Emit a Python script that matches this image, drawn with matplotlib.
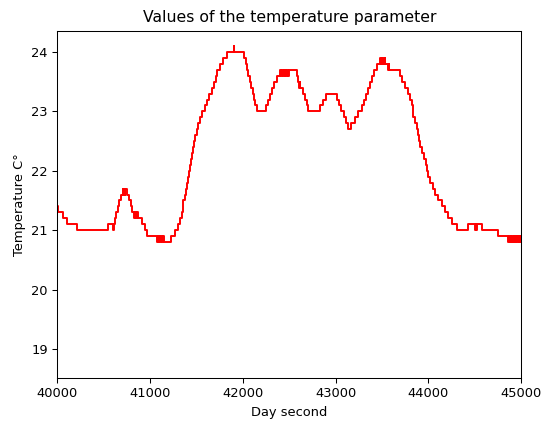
import matplotlib
matplotlib.use("Agg")
import matplotlib.pyplot as plt

# step data: time (day second) where the reading changes, and the new reading
seconds = [
    40000, 40013, 40065, 40108, 40216, 40550, 40603, 40614, 40627, 40638,
    40649, 40662, 40686, 40705, 40713, 40719, 40727, 40735, 40754, 40773,
    40791, 40808, 40827, 40837, 40848, 40859, 40870, 40909, 40945, 40967,
    41071, 41085, 41093, 41101, 41110, 41118, 41126, 41134, 41145, 41222,
    41268, 41304, 41322, 41341, 41350, 41360, 41372, 41385, 41398, 41410,
    41420, 41430, 41440, 41450, 41460, 41472, 41484, 41502, 41519, 41537,
    41556, 41592, 41613, 41640, 41664, 41689, 41705, 41724, 41753, 41782,
    41825, 41900, 41905, 42015, 42030, 42045, 42060, 42075, 42090, 42105,
    42120, 42135, 42150, 42250, 42272, 42290, 42310, 42335, 42364, 42405,
    42414, 42423, 42432, 42441, 42450, 42459, 42468, 42477, 42486, 42500,
    42580, 42597, 42604, 42611, 42618, 42634, 42651, 42669, 42688, 42705,
    42831, 42866, 42896, 43019, 43041, 43062, 43089, 43116, 43136, 43170,
    43208, 43244, 43280, 43305, 43327, 43351, 43370, 43388, 43418, 43450,
    43478, 43486, 43494, 43502, 43510, 43518, 43526, 43532, 43565, 43570,
    43575, 43580, 43693, 43711, 43747, 43780, 43801, 43817, 43828, 43836,
    43855, 43873, 43887, 43898, 43909, 43930, 43952, 43968, 43981, 43998,
    44016, 44052, 44071, 44106, 44142, 44178, 44213, 44250, 44304, 44431,
    44501, 44507, 44513, 44520, 44576, 44752, 44860, 44868, 44876, 44884,
    44892, 44900, 44908, 44916, 44924, 44932, 44940, 44948, 44956, 44964,
    44972, 44980, 44988, 44996, 45050,
]
temperature = [
    21.4, 21.3, 21.2, 21.1, 21.0, 21.1, 21.0, 21.1, 21.2, 21.3,
    21.4, 21.5, 21.6, 21.7, 21.6, 21.7, 21.6, 21.7, 21.6, 21.5,
    21.4, 21.3, 21.2, 21.3, 21.2, 21.3, 21.2, 21.1, 21.0, 20.9,
    20.8, 20.9, 20.8, 20.9, 20.8, 20.9, 20.8, 20.9, 20.8, 20.9,
    21.0, 21.1, 21.2, 21.3, 21.4, 21.5, 21.6, 21.7, 21.8, 21.9,
    22.0, 22.1, 22.2, 22.3, 22.4, 22.5, 22.6, 22.7, 22.8, 22.9,
    23.0, 23.1, 23.2, 23.3, 23.4, 23.5, 23.6, 23.7, 23.8, 23.9,
    24.0, 24.1, 24.0, 23.9, 23.8, 23.7, 23.6, 23.5, 23.4, 23.3,
    23.2, 23.1, 23.0, 23.1, 23.2, 23.3, 23.4, 23.5, 23.6, 23.7,
    23.6, 23.7, 23.6, 23.7, 23.6, 23.7, 23.6, 23.7, 23.6, 23.7,
    23.6, 23.5, 23.4, 23.5, 23.4, 23.4, 23.3, 23.2, 23.1, 23.0,
    23.1, 23.2, 23.3, 23.2, 23.1, 23.0, 22.9, 22.8, 22.7, 22.8,
    22.9, 23.0, 23.1, 23.2, 23.3, 23.4, 23.5, 23.6, 23.7, 23.8,
    23.9, 23.8, 23.9, 23.8, 23.9, 23.8, 23.9, 23.8, 23.7, 23.8,
    23.7, 23.7, 23.6, 23.5, 23.4, 23.3, 23.2, 23.1, 23.0, 22.9,
    22.8, 22.7, 22.6, 22.5, 22.4, 22.3, 22.2, 22.1, 22.0, 21.9,
    21.8, 21.7, 21.6, 21.5, 21.4, 21.3, 21.2, 21.1, 21.0, 21.1,
    21.0, 21.1, 21.0, 21.1, 21.0, 20.9, 20.8, 20.9, 20.8, 20.9,
    20.8, 20.9, 20.8, 20.9, 20.8, 20.9, 20.8, 20.9, 20.8, 20.9,
    20.8, 20.9, 20.8, 20.9, 20.8,
]

plt.rcParams["font.size"] = 9.4

fig = plt.figure(figsize=(5.42, 4.21), dpi=100)
ax = fig.add_axes([0.1057, 0.1021, 0.8561, 0.825])
ax.plot(seconds, temperature, color="red", linewidth=1.4, drawstyle="steps-post")
ax.set_xlim(40000, 45000)
ax.set_ylim(18.51, 24.36)
ax.set_xticks([40000, 41000, 42000, 43000, 44000, 45000])
ax.set_title("Values of the temperature parameter")
ax.set_xlabel("Day second")
ax.set_ylabel("Temperature C°")
for s in ax.spines.values():
    s.set_linewidth(0.75)
ax.tick_params(length=3.3, width=0.75)

fig.savefig("out.png", dpi=100)
